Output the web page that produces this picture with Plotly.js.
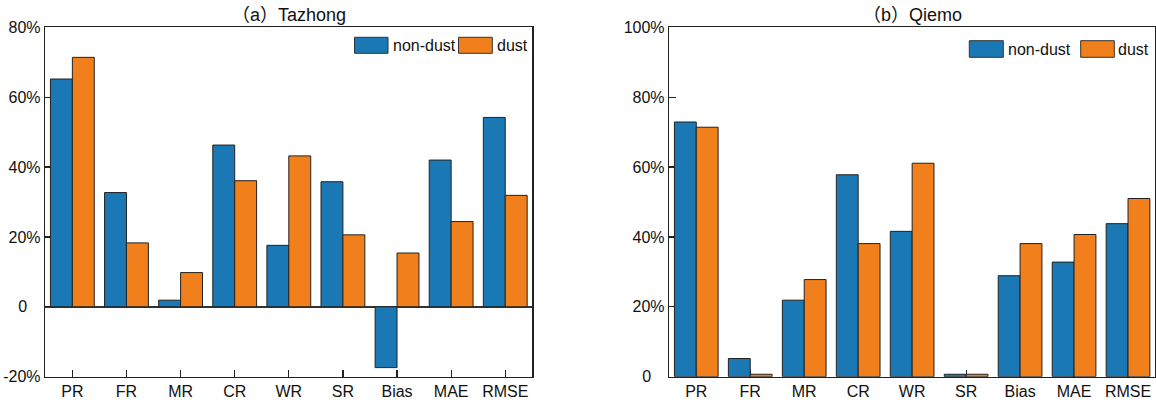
<!DOCTYPE html>
<html>
<head>
<meta charset="utf-8">
<script src="https://cdn.plot.ly/plotly-3.0.1.min.js"></script>
<style>html,body{margin:0;padding:0;background:#fff;}#chart{width:1156px;height:403px;}</style>
</head>
<body>
<div id="chart"></div>
<script>
// ---- data ----
var categories = ['PR', 'FR', 'MR', 'CR', 'WR', 'SR', 'Bias', 'MAE', 'RMSE'];
var tazhongNonDust = [65.2, 32.7, 1.9, 46.3, 17.6, 35.8, -17.4, 42.0, 54.2];
var tazhongDust    = [71.4, 18.3, 9.8, 36.1, 43.2, 20.6, 15.4, 24.4, 31.9];
var qiemoNonDust   = [72.9, 5.2, 21.9, 57.8, 41.6, 0.7, 28.9, 32.8, 43.8];
var qiemoDust      = [71.4, 0.7, 27.8, 38.1, 61.1, 0.7, 38.1, 40.7, 51.0];
var seriesNames = ['non-dust', 'dust'];
var titles = ['（a）Tazhong', '（b）Qiemo'];
var leftTickVals = [-20, 0, 20, 40, 60, 80];
var leftTickText = ['-20%', '0\u00a0\u00a0\u00a0', '20%', '40%', '60%', '80%'];
var rightTickVals = [0, 20, 40, 60, 80, 100];
var rightTickText = ['0\u00a0\u00a0\u00a0', '20%', '40%', '60%', '80%', '100%'];

// ---- style ----
var W = 1156, H = 403;
var BLUE = '#1a78b4', ORANGE = '#f07f1c';
var FONT = 'Liberation Sans, Arial, Noto Sans CJK SC, sans-serif';
function px(x) { return x / W; }
function py(y) { return 1 - y / H; }

function bar(x, y, name, color, xa, ya) {
  return {
    type: 'bar', x: x, y: y, name: name, xaxis: xa, yaxis: ya,
    marker: {color: color, line: {color: '#222', width: 1}},
    showlegend: false, hoverinfo: 'skip'
  };
}

var data = [
  bar(categories, tazhongNonDust, seriesNames[0], BLUE, 'x', 'y'),
  bar(categories, tazhongDust, seriesNames[1], ORANGE, 'x', 'y'),
  bar(categories, qiemoNonDust, seriesNames[0], BLUE, 'x2', 'y2'),
  bar(categories, qiemoDust, seriesNames[1], ORANGE, 'x2', 'y2')
];

function xaxis(dom, anchor) {
  return {
    domain: dom, anchor: anchor, type: 'category', range: [-0.5, 8.5],
    showline: true, mirror: true, linecolor: '#222', linewidth: 1.5,
    ticks: 'inside', ticklen: 7, tickcolor: '#222', tickwidth: 1.2,
    showgrid: false, zeroline: false, layer: 'below traces',
    tickfont: {family: FONT, size: 16, color: '#111'}, fixedrange: true
  };
}
function yaxis(dom, anchor, range, vals, text, zl) {
  return {
    domain: dom, anchor: anchor, range: range,
    tickmode: 'array', tickvals: vals, ticktext: text,
    showline: true, mirror: true, linecolor: '#222', linewidth: 1.5,
    ticks: 'inside', ticklen: 7, tickcolor: '#222', tickwidth: 1.2,
    showgrid: false, zeroline: zl, zerolinecolor: '#333', zerolinewidth: 1.5,
    layer: 'below traces',
    tickfont: {family: FONT, size: 16, color: '#111'}, fixedrange: true
  };
}

var yDom = [py(376.7), py(27.3)];
var layout = {
  width: W, height: H,
  margin: {l: 0, r: 0, t: 0, b: 0},
  paper_bgcolor: '#fff', plot_bgcolor: '#fff',
  barmode: 'group', bargap: 0.19, bargroupgap: 0,
  showlegend: false,
  xaxis: xaxis([px(45.3), px(532.3)], 'y'),
  yaxis: yaxis(yDom, 'x', [-20, 80], leftTickVals, leftTickText, true),
  xaxis2: xaxis([px(669.3), px(1155)], 'y2'),
  yaxis2: yaxis(yDom, 'x2', [0, 100], rightTickVals, rightTickText, false),
  shapes: [
    // legend boxes (left)
    {type: 'rect', xref: 'paper', yref: 'paper', x0: px(354.5), x1: px(388), y0: py(53.3), y1: py(37.3), fillcolor: BLUE, line: {color: '#333', width: 1}},
    {type: 'rect', xref: 'paper', yref: 'paper', x0: px(458.5), x1: px(492.3), y0: py(53.3), y1: py(37.3), fillcolor: ORANGE, line: {color: '#333', width: 1}},
    // legend boxes (right)
    {type: 'rect', xref: 'paper', yref: 'paper', x0: px(969.3), x1: px(1003.3), y0: py(57.3), y1: py(40.7), fillcolor: BLUE, line: {color: '#333', width: 1}},
    {type: 'rect', xref: 'paper', yref: 'paper', x0: px(1080.7), x1: px(1114.3), y0: py(57.3), y1: py(40.7), fillcolor: ORANGE, line: {color: '#333', width: 1}}
  ],
  annotations: [
    {text: titles[0], xref: 'paper', yref: 'paper', x: px(288.8), y: py(15), xanchor: 'center', yanchor: 'middle', showarrow: false, font: {family: FONT, size: 18, color: '#111'}},
    {text: titles[1], xref: 'paper', yref: 'paper', x: px(912), y: py(15), xanchor: 'center', yanchor: 'middle', showarrow: false, font: {family: FONT, size: 18, color: '#111'}},
    {text: seriesNames[0], xref: 'paper', yref: 'paper', x: px(391), y: py(45.3), xanchor: 'left', yanchor: 'middle', showarrow: false, font: {family: FONT, size: 16, color: '#111'}},
    {text: seriesNames[1], xref: 'paper', yref: 'paper', x: px(494.5), y: py(45.3), xanchor: 'left', yanchor: 'middle', showarrow: false, font: {family: FONT, size: 16, color: '#111'}},
    {text: seriesNames[0], xref: 'paper', yref: 'paper', x: px(1006), y: py(49), xanchor: 'left', yanchor: 'middle', showarrow: false, font: {family: FONT, size: 16, color: '#111'}},
    {text: seriesNames[1], xref: 'paper', yref: 'paper', x: px(1116), y: py(49), xanchor: 'left', yanchor: 'middle', showarrow: false, font: {family: FONT, size: 16, color: '#111'}}
  ]
};

Plotly.newPlot('chart', data, layout, {displayModeBar: false, staticPlot: true});
</script>
</body>
</html>
